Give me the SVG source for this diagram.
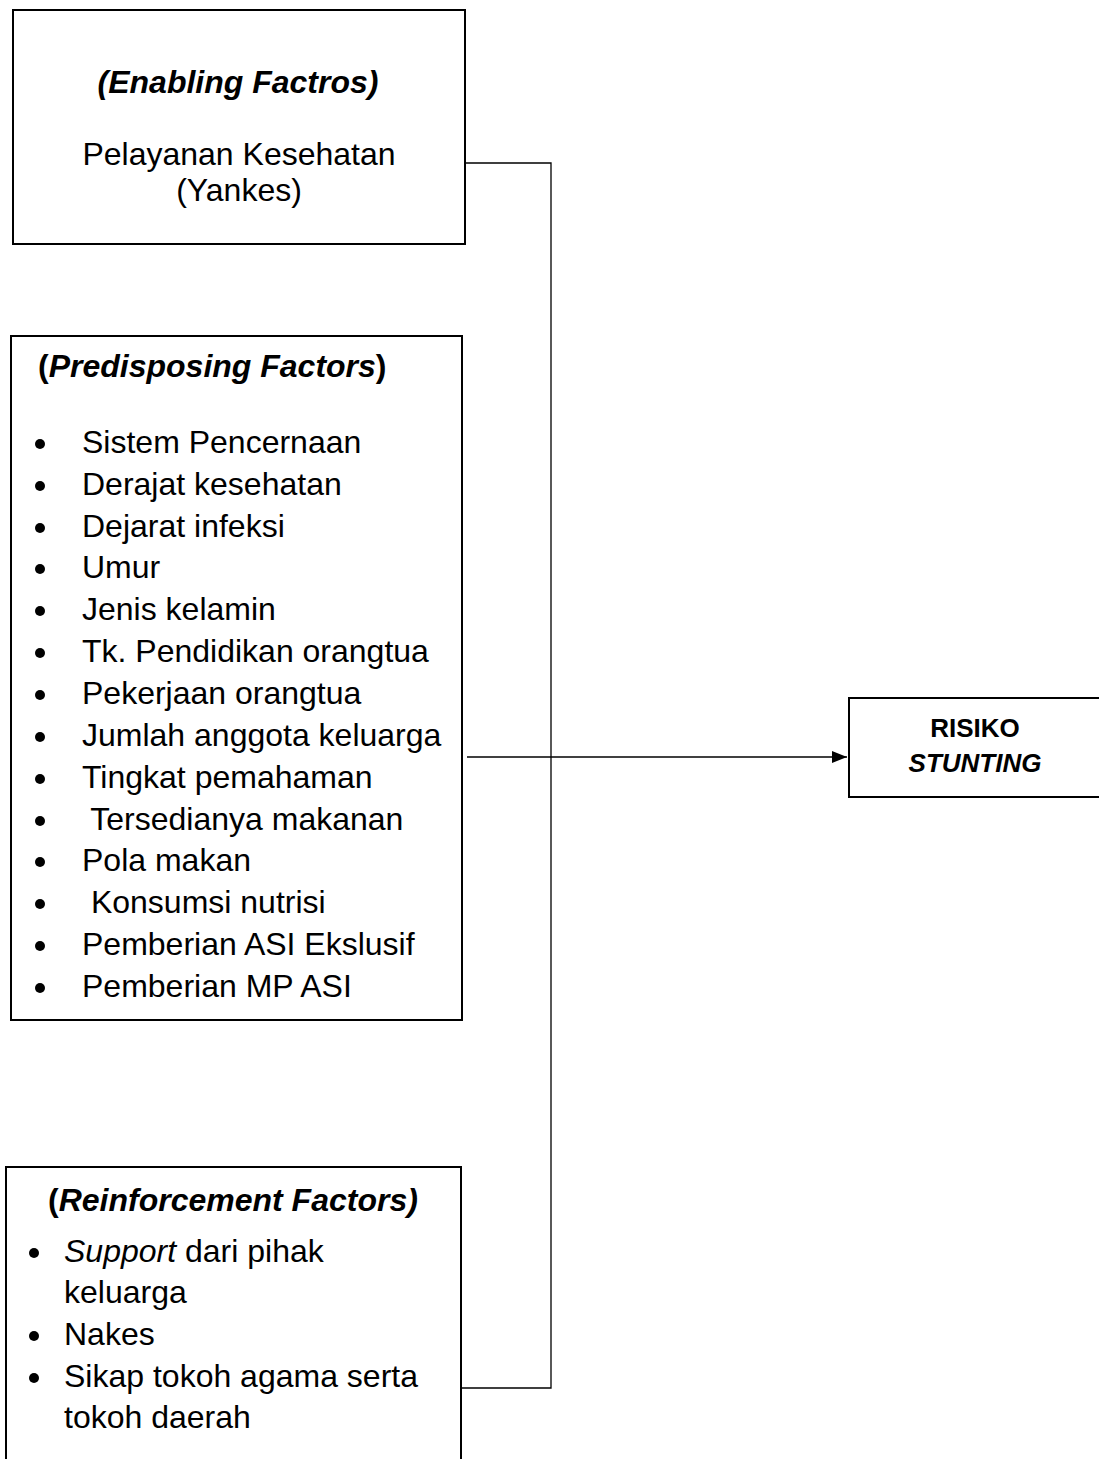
<svg xmlns="http://www.w3.org/2000/svg" width="1099" height="1459" viewBox="0 0 1099 1459">
<style>
.box{fill:#fff;stroke:#000;stroke-width:2}
.t{font-family:"Liberation Sans",Arial,sans-serif;fill:#000}
.li{font-size:32px}
.hd{font-size:32px;font-weight:bold}
.bi{font-weight:bold;font-style:italic}
.c{stroke:#000;stroke-width:1.3;fill:none}
</style>
<defs>
<marker id="ah" markerWidth="15" markerHeight="12" refX="15" refY="6" orient="auto" markerUnits="userSpaceOnUse">
<path d="M0,0 L15,6 L0,12 Z" fill="#000"/>
</marker>
</defs>
<rect width="1099" height="1459" fill="#fff"/>
<g id="connectors">
<path class="c" d="M465,163 H551 V1388 H462"/>
<path class="c" d="M467,757 H847" marker-end="url(#ah)"/>
</g>
<g id="enabling">
<rect class="box" x="13" y="10" width="452" height="234"/>
<text class="t bi" x="238" y="93" font-size="32" text-anchor="middle">(Enabling Factros)</text>
<text class="t" x="239" y="165" font-size="32" text-anchor="middle">Pelayanan Kesehatan</text>
<text class="t" x="239" y="201" font-size="32" text-anchor="middle">(Yankes)</text>
</g>
<g id="predisposing">
<rect class="box" x="11" y="336" width="451" height="684"/>
<text class="t hd" x="38" y="377">(<tspan font-style="italic">Predisposing Factors</tspan>)</text>
<g fill="#000">
<circle cx="40" cy="444" r="5"/><circle cx="40" cy="486" r="5"/><circle cx="40" cy="528" r="5"/><circle cx="40" cy="569" r="5"/><circle cx="40" cy="611" r="5"/><circle cx="40" cy="653" r="5"/><circle cx="40" cy="695" r="5"/><circle cx="40" cy="737" r="5"/><circle cx="40" cy="779" r="5"/><circle cx="40" cy="821" r="5"/><circle cx="40" cy="862" r="5"/><circle cx="40" cy="904" r="5"/><circle cx="40" cy="946" r="5"/><circle cx="40" cy="988" r="5"/>
</g>
<text class="t li" x="82" y="453">Sistem Pencernaan</text>
<text class="t li" x="82" y="495">Derajat kesehatan</text>
<text class="t li" x="82" y="537">Dejarat infeksi</text>
<text class="t li" x="82" y="578">Umur</text>
<text class="t li" x="82" y="620">Jenis kelamin</text>
<text class="t li" x="82" y="662">Tk. Pendidikan orangtua</text>
<text class="t li" x="82" y="704">Pekerjaan orangtua</text>
<text class="t li" x="82" y="746">Jumlah anggota keluarga</text>
<text class="t li" x="82" y="788">Tingkat pemahaman</text>
<text class="t li" x="82" y="830" xml:space="preserve"> Tersedianya makanan</text>
<text class="t li" x="82" y="871">Pola makan</text>
<text class="t li" x="82" y="913" xml:space="preserve"> Konsumsi nutrisi</text>
<text class="t li" x="82" y="955">Pemberian ASI Ekslusif</text>
<text class="t li" x="82" y="997">Pemberian MP ASI</text>
</g>
<g id="risiko">
<rect class="box" x="849" y="698" width="260" height="99"/>
<text class="t" x="975" y="737" font-size="26" font-weight="bold" text-anchor="middle">RISIKO</text>
<text class="t bi" x="975" y="772" font-size="26" text-anchor="middle">STUNTING</text>
</g>
<g id="reinforcement">
<rect class="box" x="6" y="1167" width="455" height="310"/>
<text class="t hd" x="48" y="1211">(<tspan font-style="italic">Reinforcement Factors)</tspan></text>
<g fill="#000">
<circle cx="34" cy="1253" r="5"/><circle cx="34" cy="1336" r="5"/><circle cx="34" cy="1378" r="5"/>
</g>
<text class="t li" x="64" y="1262"><tspan font-style="italic">Support</tspan> dari pihak</text>
<text class="t li" x="64" y="1303">keluarga</text>
<text class="t li" x="64" y="1345">Nakes</text>
<text class="t li" x="64" y="1387">Sikap tokoh agama serta</text>
<text class="t li" x="64" y="1428">tokoh daerah</text>
</g>
</svg>
